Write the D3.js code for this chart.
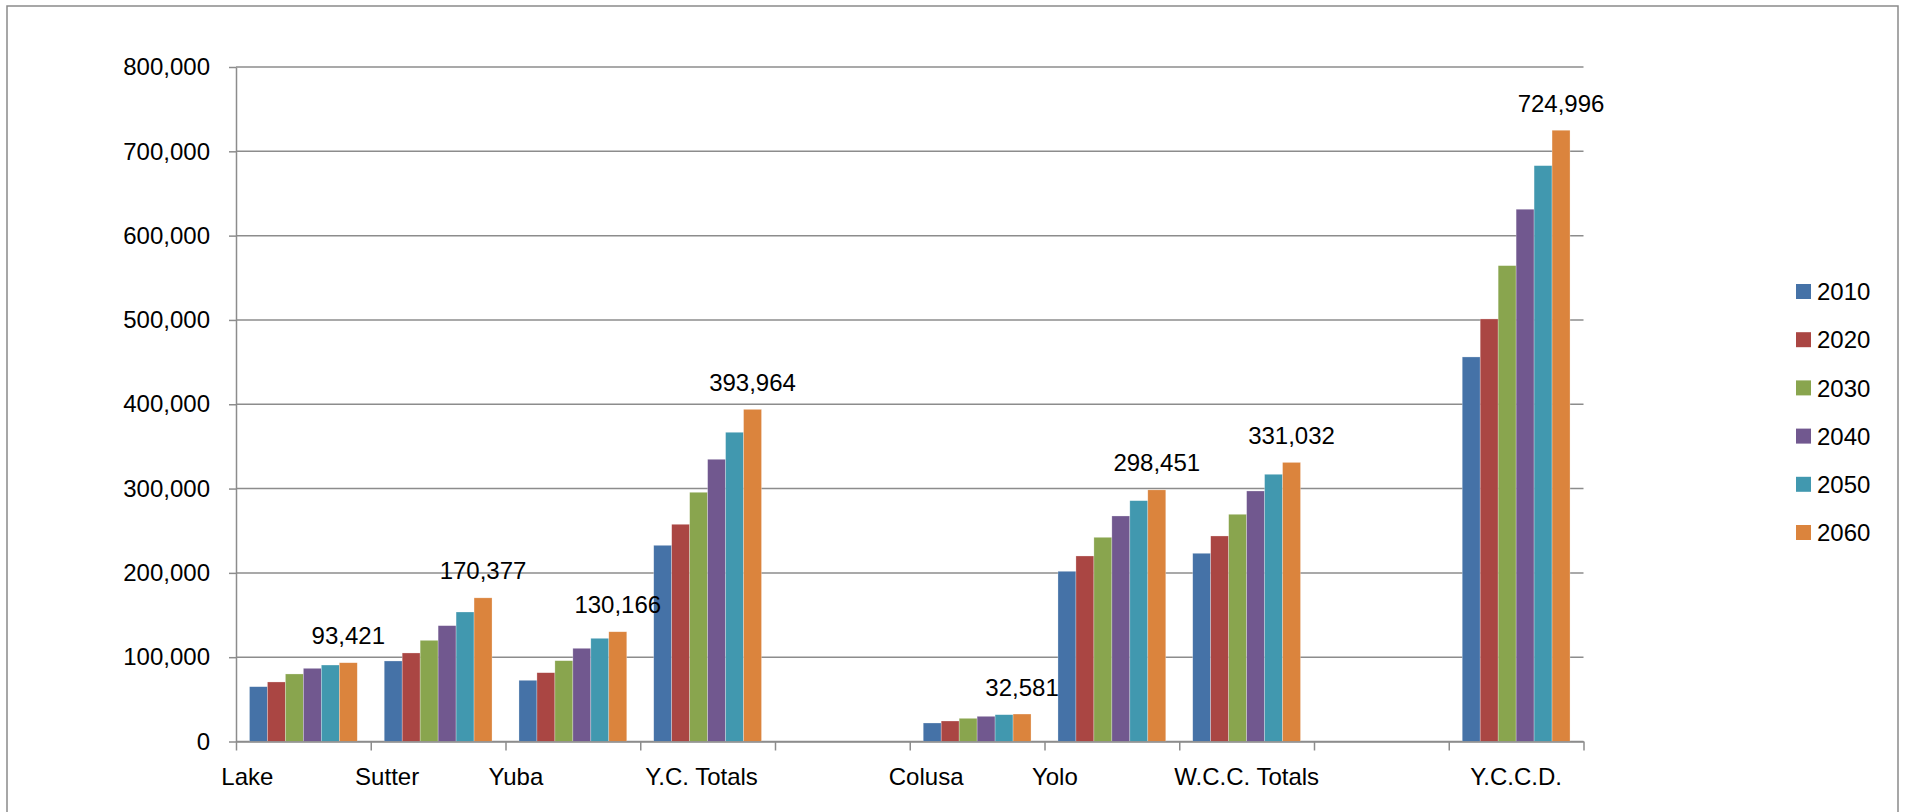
<!DOCTYPE html>
<html>
<head>
<meta charset="utf-8">
<script src="https://cdn.jsdelivr.net/npm/d3@7"></script>
<style>
  body { margin: 0; background: #fff; }
  svg text { font-family: "Liberation Sans", Arial, sans-serif; fill: #000; }
</style>
</head>
<body>
<svg id="chart" width="1906" height="812"></svg>
<script>
// categories on the x axis ("" = empty slot)
var categories = ["Lake", "Sutter", "Yuba", "Y.C. Totals", "", "Colusa", "Yolo", "W.C.C. Totals", "", "Y.C.C.D."];
var years = ["2010", "2020", "2030", "2040", "2050", "2060"];

// one array per year, same order as categories
var v2010 = [65000, 95500, 72600, 232700, null, 21950, 201900, 223240, null, 456100];
var v2020 = [70600, 105000, 81600, 257640, null, 24320, 220040, 243760, null, 501170];
var v2030 = [80100, 120000, 95850, 295600, null, 27500, 242200, 269500, null, 564400];
var v2040 = [86800, 137400, 110550, 334740, null, 29890, 267480, 297140, null, 631300];
var v2050 = [90700, 153600, 122400, 366770, null, 31800, 285640, 316950, null, 683000];
var v2060 = [93421, 170377, 130166, 393964, null, 32581, 298451, 331032, null, 724996];

var yTicks = [0, 100000, 200000, 300000, 400000, 500000, 600000, 700000, 800000];
var colors = ["#4572A7", "#AA4643", "#89A54E", "#71588F", "#4198AF", "#DB843D"];

var series = [v2010, v2020, v2030, v2040, v2050, v2060];

// layout
var plotL = 236, plotR = 1583.5, plotT = 67, plotB = 741.5;
// x label nudges (labels in the original sit off-centre)
var labelShift = [-56, -51, -57, -6, 0, -51, -57, 0, 0, 0];

var svg = d3.select("#chart");

// outer frame
svg.append("rect")
  .attr("x", 7).attr("y", 6).attr("width", 1891).attr("height", 830)
  .attr("fill", "none").attr("stroke", "#8a8a8a").attr("stroke-width", 1.5);

var x = d3.scaleBand().domain(d3.range(categories.length)).range([plotL, plotR]);
var xs = d3.scaleBand().domain(d3.range(years.length)).range([0, x.bandwidth()]).paddingOuter(0.75);
var y = d3.scaleLinear().domain([0, 800000]).range([plotB, plotT]);

// gridlines
svg.append("g").selectAll("line")
  .data(yTicks)
  .enter().append("line")
  .attr("x1", plotL).attr("x2", plotR)
  .attr("y1", d => y(d)).attr("y2", d => y(d))
  .attr("stroke", "#8c8c8c").attr("stroke-width", 1.5);

// y axis
var yAxis = svg.append("g")
  .attr("transform", "translate(" + plotL + ",0)")
  .call(d3.axisLeft(y).tickValues(yTicks).tickSize(7).tickSizeOuter(0).tickPadding(19).tickFormat(d3.format(",")));
yAxis.selectAll("text").style("font-size", "24px");
yAxis.selectAll("line, path").attr("stroke", "#8c8c8c").attr("stroke-width", 1.5);

// bars
var bars = svg.append("g");
series.forEach(function (vals, s) {
  bars.selectAll(null)
    .data(vals.map((v, i) => ({ v: v, i: i })).filter(d => d.v != null))
    .enter().append("rect")
    .attr("x", d => x(d.i) + xs(s))
    .attr("y", d => y(d.v))
    .attr("width", xs.bandwidth())
    .attr("height", d => plotB - y(d.v))
    .attr("fill", colors[s])
    .attr("stroke", "rgba(255,255,255,0.45)")
    .attr("stroke-width", 0.6);
});

// value labels on the 2060 series
svg.append("g").selectAll("text")
  .data(v2060.map((v, i) => ({ v: v, i: i })).filter(d => d.v != null))
  .enter().append("text")
  .attr("x", d => x(d.i) + xs(5) + xs.bandwidth() / 2)
  .attr("y", d => y(d.v) - 18.5)
  .attr("text-anchor", "middle")
  .style("font-size", "24px")
  .text(d => d3.format(",")(d.v));

// x axis with ticks at category edges
var xEdge = d3.scaleLinear().domain([0, categories.length]).range([plotL, plotR]);
var xAxis = svg.append("g")
  .attr("transform", "translate(0," + plotB + ")")
  .call(d3.axisBottom(xEdge).tickValues(d3.range(categories.length + 1)).tickSize(9).tickSizeOuter(0).tickFormat(""));
xAxis.selectAll("line, path").attr("stroke", "#8c8c8c").attr("stroke-width", 1.5);

svg.append("g").selectAll("text")
  .data(categories)
  .enter().append("text")
  .attr("x", (d, i) => x(i) + x.bandwidth() / 2 + labelShift[i])
  .attr("y", 785)
  .attr("text-anchor", "middle")
  .style("font-size", "24px")
  .text(d => d);

// legend
var legend = svg.append("g").selectAll("g")
  .data(years)
  .enter().append("g")
  .attr("transform", (d, i) => "translate(1796," + (291.5 + i * 48.2) + ")");
legend.append("rect")
  .attr("x", 0).attr("y", -7.5).attr("width", 15).attr("height", 15)
  .attr("fill", (d, i) => colors[i]);
legend.append("text")
  .attr("x", 21).attr("y", 0)
  .attr("dy", "0.36em")
  .style("font-size", "24px")
  .text(d => d);
</script>
</body>
</html>
